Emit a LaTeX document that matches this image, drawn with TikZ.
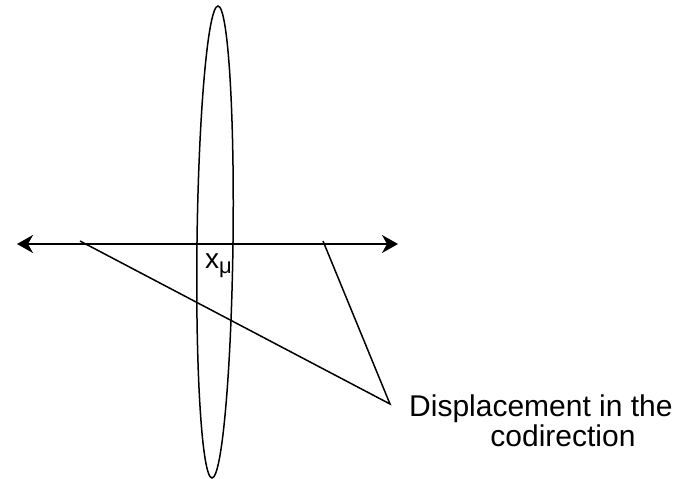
\documentclass[tikz,border=0pt]{standalone}
\usepackage{fontspec}
\setmainfont{Liberation Sans}
\usetikzlibrary{arrows.meta}
\tikzset{
  thin line/.style={line width=1.5pt, black},
  tipped/.style={thin line, {Stealth[length=16pt,width=18pt,inset=5pt]}-{Stealth[length=16pt,width=18pt,inset=5pt]}},
  lbl/.style={inner sep=0pt, font=\fontsize{30}{32}\selectfont, anchor=base west}
}
\begin{document}
\begin{tikzpicture}[x=1pt,y=-1pt]
\useasboundingbox (0,0) rectangle (680,479);
\coordinate (left) at (17,244);
\coordinate (right) at (398,244);
\coordinate (p1) at (80,241);
\coordinate (p2) at (323,241);
\coordinate (apex) at (390,404);
\coordinate (ec) at (215,242);
\draw[thin line] (ec) ellipse[x radius=18, y radius=236, rotate=-0.73];
\draw[tipped] (left) -- (right);
\draw[thin line] (p1) -- (apex) -- (p2);
\node[inner sep=0pt, font=\fontsize{28}{30}\selectfont, anchor=base west] (xmu) at (205,268) {x\raisebox{-5.5pt}{\fontsize{22}{22}\selectfont μ}};
\node[lbl] (disp) at (409,416) {Displacement in the};
\node[lbl, anchor=base] (codir) at (563,446) {codirection};
\end{tikzpicture}
\end{document}
